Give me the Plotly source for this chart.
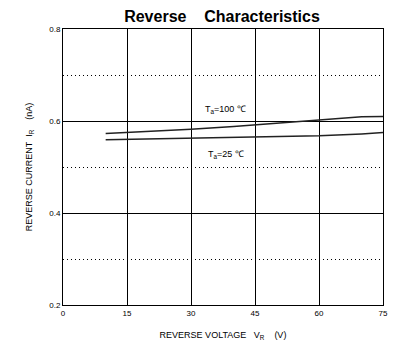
import plotly.graph_objects as go

vr = [10, 20, 30, 40, 50, 60, 70, 75]
ir_100 = [0.573, 0.577, 0.582, 0.588, 0.595, 0.602, 0.609, 0.610]
ir_25 = [0.559, 0.561, 0.562, 0.564, 0.566, 0.568, 0.572, 0.575]
x_ticks = [0, 15, 30, 45, 60, 75]
y_ticks = [0.2, 0.4, 0.6, 0.8]

fig = go.Figure()
fig.add_trace(go.Scatter(x=vr, y=ir_100, mode="lines", line=dict(color="#222", width=1.5), showlegend=False))
fig.add_trace(go.Scatter(x=vr, y=ir_25, mode="lines", line=dict(color="#222", width=1.5), showlegend=False))

fig.add_annotation(x=38.2, y=0.626, text="T<sub>a</sub>=100 ℃", showarrow=False,
                   font=dict(family="Liberation Sans, Arial", size=9, color="black"))
fig.add_annotation(x=38.3, y=0.528, text="T<sub>a</sub>=25 ℃", showarrow=False,
                   font=dict(family="Liberation Sans, Arial", size=9, color="black"))

fig.update_layout(
    width=413, height=351,
    margin=dict(l=63, r=30, t=29, b=44),
    paper_bgcolor="white", plot_bgcolor="white",
    font=dict(family="Liberation Sans, Arial", color="black"),
    title=dict(text="<b>Reverse    Characteristics</b>", x=222/413, xanchor="center",
               y=1 - 16/351, yanchor="middle", font=dict(size=16, color="black")),
    xaxis=dict(range=[0, 75], tickvals=x_ticks, ticktext=[str(v) for v in x_ticks],
               showgrid=True, gridcolor="black", gridwidth=1, zeroline=False,
               showline=True, linecolor="black", linewidth=1, mirror=True,
               ticks="", ticklen=0, tickfont=dict(size=8),
               title=dict(text="REVERSE VOLTAGE   V<sub>R</sub>    (V)", font=dict(size=9), standoff=15)),
    yaxis=dict(range=[0.2, 0.8], tickvals=y_ticks, ticktext=["0.2", "0.4", "0.6", "0.8"],
               showgrid=True, gridcolor="black", gridwidth=1, zeroline=False,
               showline=True, linecolor="black", linewidth=1, mirror=True,
               ticks="", tickfont=dict(size=8),
               minor=dict(tickvals=[0.3, 0.5, 0.7], showgrid=True, gridcolor="black",
                          griddash="1px,3px", gridwidth=1),
               title=dict(text="REVERSE CURRENT  I<sub>R</sub>    (nA)", font=dict(size=9), standoff=15)),
)

fig.write_html("out.html")
